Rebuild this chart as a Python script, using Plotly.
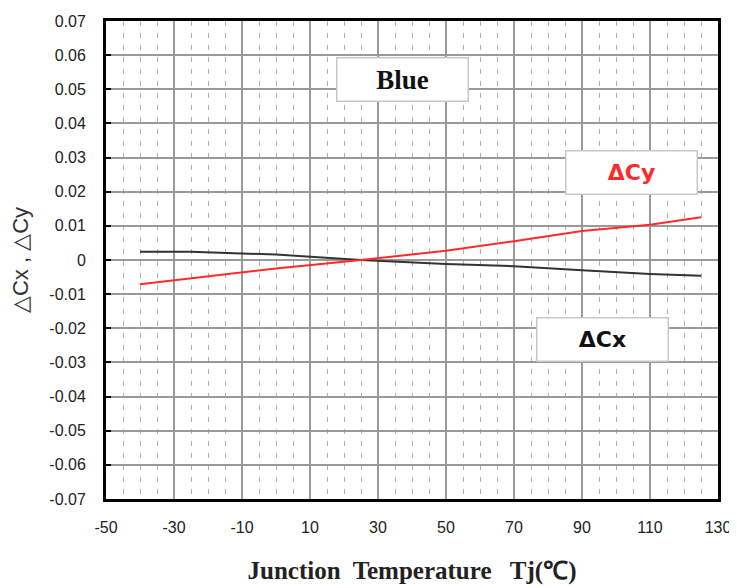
import plotly.graph_objects as go

# Data
temps_cx = [-40, -25, 0, 25, 50, 70, 90, 110, 125]
delta_cx = [0.0024, 0.0024, 0.0016, 0.0, -0.0012, -0.0018, -0.0030, -0.0041, -0.0046]

temps_cy = [-40, -20, 0, 25, 50, 70, 90, 110, 125]
delta_cy = [-0.0071, -0.0048, -0.0025, 0.0, 0.0027, 0.0055, 0.0085, 0.0103, 0.0125]

x_ticks = [-50, -30, -10, 10, 30, 50, 70, 90, 110, 130]
y_ticks = [0.07, 0.06, 0.05, 0.04, 0.03, 0.02, 0.01, 0, -0.01, -0.02, -0.03, -0.04, -0.05, -0.06, -0.07]
y_tick_labels = ["0.07", "0.06", "0.05", "0.04", "0.03", "0.02", "0.01", "0",
                 "-0.01", "-0.02", "-0.03", "-0.04", "-0.05", "-0.06", "-0.07"]
x_tick_labels = [str(v) for v in x_ticks]

fig = go.Figure()
fig.add_trace(go.Scatter(x=temps_cx, y=delta_cx, mode="lines",
                         line=dict(color="#333333", width=2), name="ΔCx"))
fig.add_trace(go.Scatter(x=temps_cy, y=delta_cy, mode="lines",
                         line=dict(color="#ff2a2a", width=2), name="ΔCy"))

tick_font = dict(family="Liberation Sans, Arial, sans-serif", size=16, color="#222222")

# page body has an 8px margin, so the figure is sized/offset to compensate
fig.update_layout(
    width=729, height=580,
    margin=dict(l=98, r=19, t=13, b=89, autoexpand=False),
    paper_bgcolor="white", plot_bgcolor="white",
    showlegend=False,
    xaxis=dict(
        range=[-50, 130], tickmode="array", tickvals=x_ticks, ticktext=x_tick_labels,
        automargin=False,
        showgrid=True, gridcolor="#9a9a9a", gridwidth=1.5,
        minor=dict(dtick=5, tick0=-50, showgrid=True, gridcolor="#b0b0b0",
                   griddash="5px,7px", gridwidth=1),
        showline=True, linecolor="black", linewidth=3, mirror=True,
        ticks="", tickfont=tick_font, ticklabelstandoff=12, zeroline=False,
        title=dict(text="<b>Junction  Temperature   Tj(℃)</b>",
                   font=dict(family="Liberation Serif, Times New Roman, serif", size=25, color="#222222"),
                   standoff=27),
    ),
    yaxis=dict(
        range=[-0.07, 0.07], tickmode="array", tickvals=y_ticks, ticktext=y_tick_labels,
        automargin=False,
        showgrid=True, gridcolor="#9a9a9a", gridwidth=1.5,
        showline=True, linecolor="black", linewidth=3, mirror=True,
        ticks="inside", ticklen=5, tickcolor="black", tickwidth=2,
        tickfont=tick_font, ticklabelstandoff=14, zeroline=False,
        title=dict(text="△Cx , △Cy",
                   font=dict(family="Liberation Sans, Arial, sans-serif", size=22, color="#333333"),
                   standoff=15),
    ),
)

box_style = dict(bgcolor="white", bordercolor="#c8c8c8", borderwidth=1.5,
                 width=128, height=40, showarrow=False, xref="paper", yref="paper",
                 xanchor="center", yanchor="middle")
fig.add_annotation(text="<b>Blue</b>", x=(402 - 106) / 612, y=(499 - 79) / 478,
                   font=dict(family="Liberation Serif, Times New Roman, serif", size=27, color="#111111"),
                   **box_style)
fig.add_annotation(text="<b>ΔCy</b>", x=(631 - 106) / 612, y=(499 - 172.5) / 478,
                   font=dict(family="DejaVu Sans, Verdana, sans-serif", size=22, color="#ff2a2a"),
                   **box_style)
fig.add_annotation(text="<b>ΔCx</b>", x=(602 - 106) / 612, y=(499 - 339.5) / 478,
                   font=dict(family="DejaVu Sans, Verdana, sans-serif", size=22, color="#111111"),
                   **box_style)

fig.write_html("out.html")
